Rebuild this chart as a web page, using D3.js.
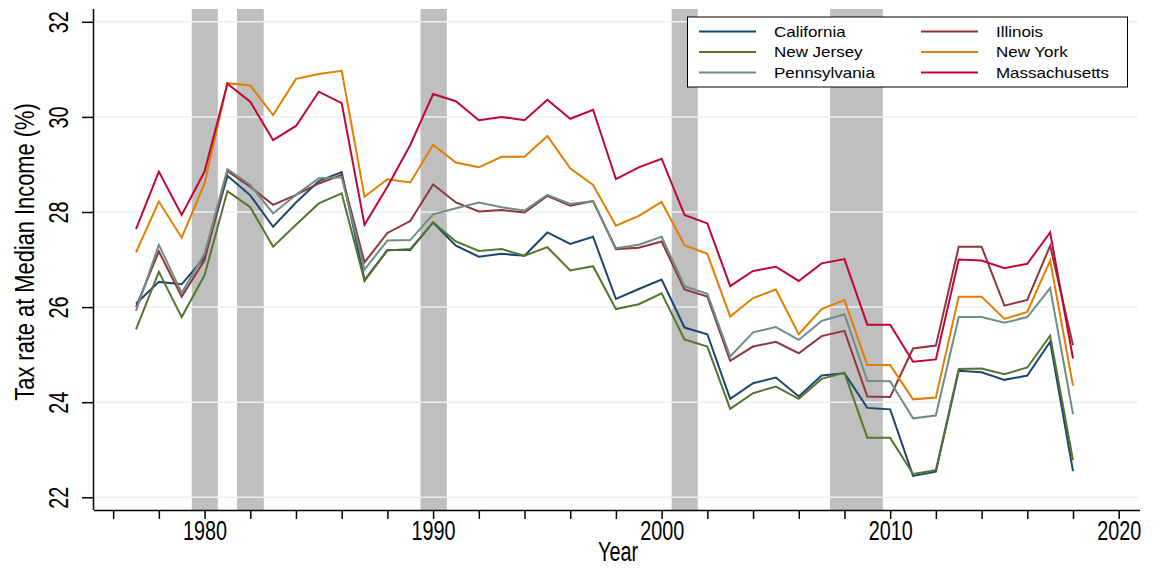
<!DOCTYPE html>
<html>
<head>
<meta charset="utf-8">
<script src="https://cdn.jsdelivr.net/npm/d3@7"></script>
<style>
  html, body { margin: 0; padding: 0; background: #fff; }
  svg { display: block; }
  .ax { font-family: "Liberation Sans", Arial, sans-serif; }
  .lg { font-family: "Liberation Sans", Arial, sans-serif; }
</style>
</head>
<body>
<svg id="chart" width="1158" height="569"></svg>
<script>
const years = d3.range(1977, 2019);
const california = [26.07,26.53,26.48,27.05,28.76,28.35,27.69,28.2,28.65,28.84,26.57,27.2,27.2,27.78,27.29,27.06,27.12,27.08,27.57,27.33,27.48,26.17,26.38,26.58,25.57,25.43,24.07,24.4,24.52,24.12,24.56,24.61,23.88,23.85,22.45,22.54,24.66,24.63,24.47,24.56,25.27,22.55];
const illinois = [26.0,27.17,26.22,26.99,28.86,28.53,28.15,28.36,28.6,28.78,26.94,27.56,27.81,28.58,28.2,28.01,28.04,27.99,28.34,28.13,28.23,27.22,27.25,27.38,26.37,26.22,24.87,25.17,25.27,25.03,25.39,25.5,24.12,24.11,25.13,25.19,27.27,27.27,26.03,26.15,27.29,25.2];
const newJersey = [25.53,26.74,25.79,26.67,28.44,28.1,27.27,27.73,28.18,28.39,26.55,27.19,27.22,27.78,27.38,27.18,27.22,27.08,27.26,26.77,26.86,25.96,26.06,26.29,25.32,25.17,23.86,24.19,24.33,24.07,24.49,24.62,23.25,23.25,22.49,22.57,24.7,24.71,24.59,24.73,25.4,22.78];
const newYork = [27.15,28.22,27.46,28.6,30.71,30.66,30.04,30.8,30.9,30.97,28.32,28.69,28.62,29.41,29.04,28.94,29.16,29.16,29.6,28.92,28.57,27.71,27.92,28.21,27.3,27.12,25.8,26.19,26.37,25.43,25.96,26.15,24.78,24.78,24.06,24.1,26.22,26.22,25.75,25.9,26.98,24.35];
const pennsylvania = [25.92,27.31,26.3,27.12,28.9,28.57,27.97,28.36,28.71,28.73,26.79,27.4,27.41,27.95,28.08,28.2,28.1,28.03,28.36,28.17,28.23,27.24,27.31,27.48,26.44,26.28,24.96,25.47,25.58,25.31,25.71,25.85,24.45,24.44,23.66,23.72,25.79,25.79,25.67,25.79,26.4,23.75];
const massachusetts = [27.64,28.85,27.94,28.85,30.7,30.32,29.51,29.81,30.53,30.29,27.73,28.53,29.41,30.48,30.33,29.93,30.0,29.93,30.36,29.96,30.15,28.69,28.94,29.12,27.94,27.76,26.44,26.76,26.85,26.55,26.92,27.01,25.63,25.63,24.85,24.9,27.0,26.98,26.82,26.91,27.57,24.92];

const seriesNames = ["California","Illinois","New Jersey","New York","Pennsylvania","Massachusetts"];
const seriesValues = [california, illinois, newJersey, newYork, pennsylvania, massachusetts];
const seriesColors = ["#1a476f","#90353b","#55752f","#e37e00","#6e8e84","#c10534"];

const recessions = [[1979.44,1980.58],[1981.42,1982.59],[1989.45,1990.6],[2000.44,2001.58],[2007.37,2009.68]];
const xMinorTicks = d3.range(1976, 2021, 2);
const xLabels = [1980,1990,2000,2010,2020];
const yTicks = [22,24,26,28,30,32];

const svg = d3.select("#chart");
const plotL = 94, plotR = 1140, plotT = 9, plotB = 510;
const SX = 0.86, SY = 1.17; // condensed/tall axis lettering

const x = d3.scaleLinear().domain([1977, 2018]).range([136, 1073]);
const y = d3.scaleLinear().domain([22, 32]).range([497.3, 21.8]);

// recession bars
svg.append("g").selectAll("rect").data(recessions).join("rect")
  .attr("x", d => x(d[0])).attr("width", d => x(d[1]) - x(d[0]))
  .attr("y", plotT).attr("height", plotB - plotT)
  .attr("fill", "#bfbfbf");

// gridlines
svg.append("g").selectAll("line").data(yTicks).join("line")
  .attr("x1", plotL).attr("x2", 1138)
  .attr("y1", d => y(d)).attr("y2", d => y(d))
  .attr("stroke", "#eaf0f3").attr("stroke-width", 1.5);

// lines
const line = d3.line().x((d, i) => x(years[i])).y(d => y(d));
svg.append("g").selectAll("path").data(seriesValues).join("path")
  .attr("d", d => line(d))
  .attr("fill", "none")
  .attr("stroke", (d, i) => seriesColors[i])
  .attr("stroke-width", 2)
  .attr("stroke-linejoin", "miter");

// x axis
const xAxis = d3.axisBottom(x).tickValues(xMinorTicks).tickSize(9).tickFormat(d => xLabels.includes(d) ? d : "");
const gx = svg.append("g").attr("class", "ax").attr("transform", `translate(0,${plotB})`).call(xAxis);
gx.select(".domain").attr("d", `M${plotL},0.5H${plotR}`).attr("stroke", "#000").attr("stroke-width", 1.5);
gx.selectAll(".tick line").attr("stroke", "#000").attr("stroke-width", 1.5);
gx.selectAll(".tick text").attr("font-size", 23).attr("fill", "#000")
  .attr("dy", null).attr("y", 0)
  .attr("transform", `translate(0,30) scale(${SX},${SY})`);

// y axis
const yAxis = d3.axisLeft(y).tickValues(yTicks).tickSize(12).tickFormat(d3.format("d"));
const gy = svg.append("g").attr("class", "ax").attr("transform", `translate(${plotL},0)`).call(yAxis);
gy.select(".domain").attr("d", `M-0.5,${plotT}V${plotB}`).attr("stroke", "#000").attr("stroke-width", 1.5);
gy.selectAll(".tick line").attr("stroke", "#000").attr("stroke-width", 1.5);
gy.selectAll(".tick text")
  .attr("font-size", 23).attr("fill", "#000")
  .attr("x", 0).attr("dy", null).attr("y", 0)
  .attr("text-anchor", "middle")
  .attr("transform", `translate(-26,0) rotate(-90) scale(${SX},${SY})`);

// axis titles
svg.append("text").attr("class", "ax")
  .attr("transform", `translate(618,561) scale(${SX},${SY})`)
  .attr("text-anchor", "middle")
  .attr("font-size", 23).text("Year");
svg.append("text").attr("class", "ax")
  .attr("transform", `translate(34,252) rotate(-90) scale(0.95,${SY})`)
  .attr("text-anchor", "middle").attr("font-size", 23)
  .text("Tax rate at Median Income (%)");

// legend
const lg = svg.append("g").attr("class", "lg");
lg.append("rect").attr("x", 687.5).attr("y", 17).attr("width", 440).attr("height", 70)
  .attr("fill", "#fff").attr("stroke", "#000").attr("stroke-width", 1);
const legendOrder = [0, 2, 4, 1, 3, 5];
legendOrder.forEach((si, k) => {
  const col = Math.floor(k / 3), row = k % 3;
  const lx = col === 0 ? 699 : 921;
  const ty = 31.5 + row * 20.5;
  lg.append("line").attr("x1", lx).attr("x2", lx + 57).attr("y1", ty).attr("y2", ty)
    .attr("stroke", seriesColors[si]).attr("stroke-width", 2);
  lg.append("text")
    .attr("transform", `translate(${lx + 75},${ty + 5}) scale(1.17,1)`)
    .attr("font-size", 14.5).attr("fill", "#000").text(seriesNames[si]);
});
</script>
</body>
</html>
